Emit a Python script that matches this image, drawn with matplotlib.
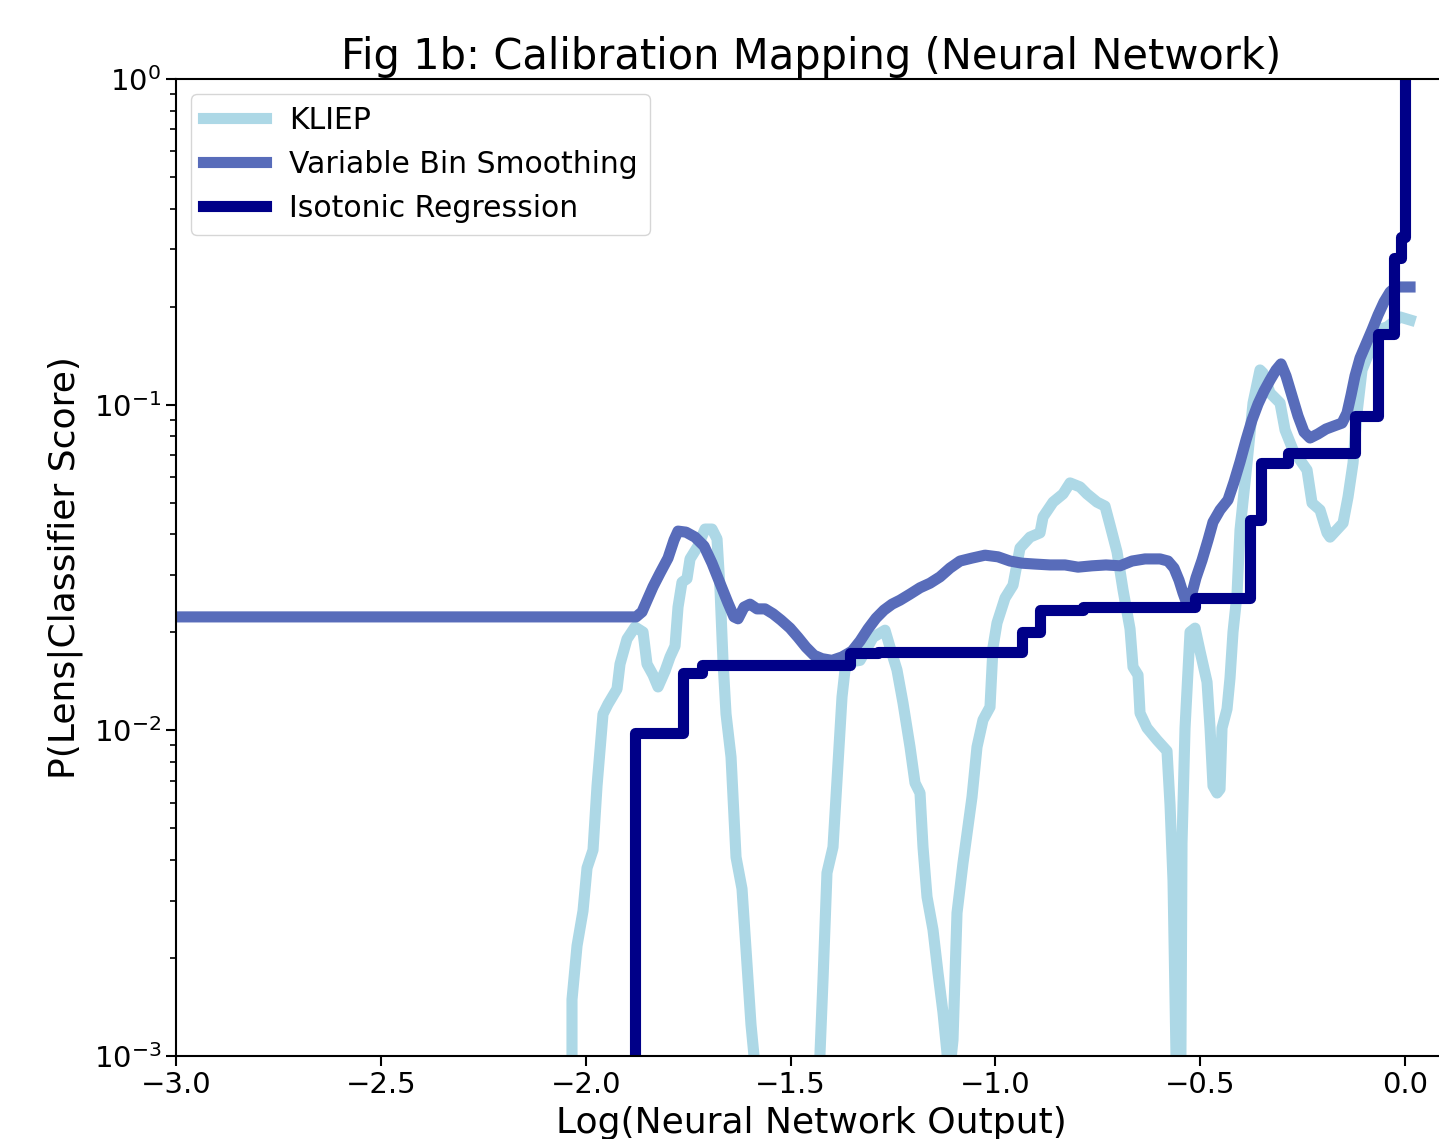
import matplotlib
matplotlib.use("Agg")
import matplotlib.pyplot as plt

# ---------------- data ----------------
kliep_x = [-2.048, -2.0334, -2.0334, -2.0211, -2.0065, -1.9967, -1.9821, -1.9723, -1.9577, -1.9455,
           -1.9235, -1.9162, -1.8991, -1.8796, -1.8600, -1.8503, -1.8356, -1.8234, -1.8063, -1.7941,
           -1.7819, -1.7746, -1.7649, -1.7527, -1.7453, -1.7258, -1.7087, -1.6916, -1.6794, -1.6721,
           -1.6648, -1.6574, -1.6452, -1.633, -1.6184, -1.6062, -1.5965, -1.5891, -1.5842,
           -1.4426, -1.428, -1.4207, -1.411, -1.3963, -1.3865, -1.3743, -1.367, -1.3548, -1.3303,
           -1.2986, -1.2693, -1.2571, -1.2401, -1.2254, -1.2083, -1.1961, -1.1839, -1.1766, -1.1668,
           -1.1522, -1.140, -1.1278, -1.118, -1.1156, -1.1034, -1.0936, -1.079, -1.057, -1.0448,
           -1.0302, -1.0131, -1.0057, -0.996, -0.9764, -0.9569, -0.9398, -0.9154, -0.891, -0.8836,
           -0.8592, -0.8348, -0.8177, -0.7933, -0.7763, -0.7518, -0.7323, -0.7201, -0.703, -0.6884,
           -0.6713, -0.664, -0.6518, -0.6469, -0.6298, -0.6054, -0.581, -0.5736, -0.5663, -0.559,
           -0.5541, -0.5492, -0.5444, -0.537, -0.5248, -0.5126, -0.5004, -0.4833, -0.476, -0.4687,
           -0.4589, -0.4516, -0.4467, -0.4345, -0.4272, -0.4199, -0.4101, -0.4028, -0.3857, -0.371,
           -0.354, -0.3466, -0.3295, -0.3051, -0.2929, -0.2734, -0.2392, -0.227, -0.2075, -0.1904,
           -0.1831, -0.1513, -0.1391, -0.1269, -0.1172, -0.105, -0.0854, -0.0683, -0.0439, -0.0122,
           0.0122]
kliep_y = [3e-4, 0.001, 0.00149, 0.00218, 0.00279, 0.00378, 0.00429, 0.00675, 0.01122, 0.01204,
           0.0134, 0.01598, 0.01907, 0.02076, 0.02003, 0.01598, 0.01479, 0.01359, 0.01521, 0.0168,
           0.01815, 0.0239, 0.0285, 0.0292, 0.0336, 0.0368, 0.0415, 0.0415, 0.0387, 0.0272,
           0.01633, 0.01122, 0.00828, 0.00408, 0.00326, 0.00192, 0.00125, 0.001, 3e-4,
           3e-4, 0.00102, 0.00171, 0.00365, 0.00438, 0.00704, 0.01266, 0.01532, 0.01621, 0.0164,
           0.0193, 0.0203, 0.018, 0.01532, 0.01213, 0.00889, 0.00689, 0.00642, 0.00438, 0.00308,
           0.00244, 0.0018, 0.00136, 0.00102, 8e-4, 0.00112, 0.00275, 0.00391, 0.00624, 0.00889,
           0.01076, 0.01179, 0.018, 0.02136, 0.02549, 0.0279, 0.0363, 0.0392, 0.0404, 0.0452,
           0.0502, 0.0532, 0.0575, 0.0559, 0.0532, 0.0502, 0.0488, 0.0427, 0.0353, 0.027,
           0.0205, 0.01565, 0.01479, 0.0113, 0.01017, 0.00934, 0.00864, 0.0059, 0.00345, 0.001,
           3e-4, 3e-4, 0.00451, 0.01017, 0.02003, 0.0206, 0.0175, 0.01407, 0.01017, 0.00675,
           0.00642, 0.0066, 0.01017, 0.01163, 0.01448, 0.02003, 0.0262, 0.0412, 0.0662, 0.1012,
           0.1278, 0.1251, 0.1086, 0.1012, 0.0836, 0.0726, 0.063, 0.0499, 0.0475, 0.0404,
           0.0392, 0.0433, 0.0521, 0.0662, 0.0943, 0.1278, 0.1472, 0.1696, 0.1732, 0.1859,
           0.182]

vbs_x = [-3.0, -1.877, -1.8625, -1.850, -1.8356, -1.8185, -1.799, -1.7844, -1.7746, -1.7551,
         -1.7331, -1.7111, -1.6916, -1.6721, -1.6526, -1.638, -1.6281, -1.6135, -1.5989, -1.5818,
         -1.5622, -1.5427, -1.5232, -1.5012, -1.4817, -1.4622, -1.4426, -1.4231, -1.3987, -1.3743,
         -1.3499, -1.3303, -1.3108, -1.2913, -1.2718, -1.2522, -1.2327, -1.2083, -1.1839, -1.1595,
         -1.1351, -1.1107, -1.0862, -1.057, -1.0252, -0.9935, -0.9642, -0.9349, -0.9032, -0.8666,
         -0.830, -0.7982, -0.764, -0.7299, -0.6957, -0.6664, -0.6347, -0.5981, -0.5785, -0.5639,
         -0.5517, -0.5419, -0.5321, -0.5224, -0.5102, -0.4955, -0.4809, -0.4687, -0.4516, -0.4321,
         -0.4174, -0.4028, -0.3881, -0.3735, -0.3588, -0.3442, -0.3295, -0.3149, -0.3027, -0.2905,
         -0.2758, -0.2612, -0.2465, -0.2319, -0.2124, -0.1928, -0.1733, -0.1538, -0.1416, -0.1318,
         -0.1221, -0.1098, -0.0952, -0.0806, -0.0659, -0.0513, -0.0366, -0.022, 0.0122]
vbs_y = [0.0223, 0.0223, 0.0231, 0.0251, 0.0276, 0.0304, 0.0338, 0.0384, 0.0409, 0.0406,
         0.0392, 0.0368, 0.0326, 0.0283, 0.0246, 0.0223, 0.022, 0.0239, 0.0244, 0.0236,
         0.0236, 0.0228, 0.0218, 0.0206, 0.0193, 0.018, 0.017, 0.0166, 0.0164, 0.0168,
         0.0175, 0.0188, 0.0205, 0.0221, 0.0234, 0.0244, 0.0251, 0.0262, 0.0274, 0.0283,
         0.0296, 0.0315, 0.0331, 0.0338, 0.0345, 0.0341, 0.0331, 0.0326, 0.0324, 0.0322,
         0.0322, 0.0317, 0.032, 0.0322, 0.032, 0.0331, 0.0336, 0.0336, 0.0331, 0.0315,
         0.0289, 0.0264, 0.0244, 0.0257, 0.0294, 0.0333, 0.0384, 0.0436, 0.0475, 0.051,
         0.0579, 0.0667, 0.0779, 0.0897, 0.1005, 0.1101, 0.119, 0.1278, 0.1334, 0.1225,
         0.1063, 0.0923, 0.0824, 0.079, 0.0813, 0.0842, 0.086, 0.0878, 0.0943, 0.107,
         0.1225, 0.1391, 0.1536, 0.1696, 0.1885, 0.2067, 0.2218, 0.2298, 0.2298]

# isotonic regression: step edges (x where each level starts) and levels
iso_x = [-1.95, -1.8796, -1.7624, -1.716, -1.3548, -1.2864, -0.9349, -0.891, -0.786,
         -0.5126, -0.3784, -0.3515, -0.2856, -0.122, -0.0659, -0.0268, -0.0098, 0.0]
iso_y = [1e-5, 0.0098, 0.0150, 0.0159, 0.01728, 0.0174, 0.02003, 0.0234, 0.0239,
         0.02549, 0.04423, 0.0662, 0.0711, 0.0923, 0.1648, 0.2819, 0.327, 2.0]

labels = ["KLIEP", "Variable Bin Smoothing", "Isotonic Regression"]
colors = ["#add8e6", "#586cba", "#000088"]

# ---------------- figure ----------------
W, H = 1439, 1139
fig = plt.figure(figsize=(W / 100, H / 100), dpi=100)
ax = fig.add_axes([176 / W, (H - 1056) / H, 1270 / W, 977 / H])

lw = 8
ax.plot(kliep_x, kliep_y, color=colors[0], lw=lw, label=labels[0])
ax.plot(vbs_x, vbs_y, color=colors[1], lw=lw, label=labels[1])
ax.step(iso_x, iso_y, where="post", color=colors[2], lw=lw, label=labels[2])

ax.set_yscale("log")
ax.set_xlim(-3.0, 0.1)
ax.set_ylim(1e-3, 1.0)

ax.set_title("Fig 1b: Calibration Mapping (Neural Network)", fontsize=30, pad=7)
ax.set_xlabel("Log(Neural Network Output)", fontsize=26, labelpad=5)
ax.set_ylabel("P(Lens|Classifier Score)", fontsize=26, labelpad=8)
ax.tick_params(axis="both", which="major", labelsize=21, length=7, width=1.5)
ax.tick_params(axis="both", which="minor", length=4, width=1.2)
for s in ax.spines.values():
    s.set_linewidth(1.5)

ax.legend(loc="upper left", fontsize=21.5, handlelength=2.1)

fig.savefig("out.png", dpi=100)
